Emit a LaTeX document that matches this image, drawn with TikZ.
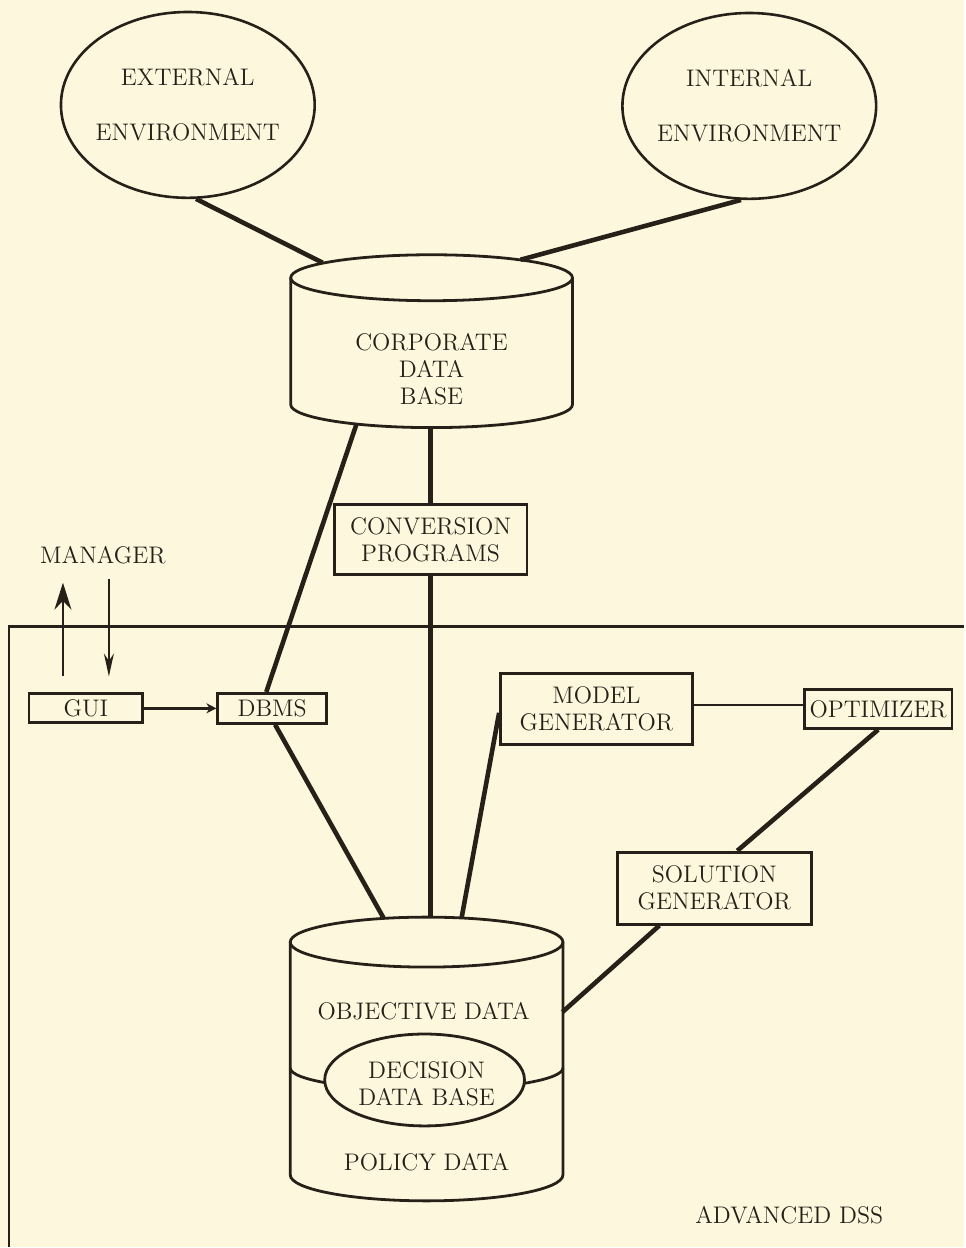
\documentclass[tikz,border=0pt]{standalone}
\usepackage{amsmath}
\usepackage{tikz}
\usepackage{xcolor}
\usetikzlibrary{shapes.geometric,arrows.meta}
\definecolor{paper}{RGB}{253,248,221}
\definecolor{ink}{RGB}{38,32,24}
\tikzset{
    diagram-text/.style = {text=ink, align=center, font=\fontsize{12}{13.5}\selectfont, inner sep=0pt},
    env-ellipse/.style = {draw=ink, ellipse, line width=1.3pt, minimum width=127pt, minimum height=93pt, inner sep=0pt},
    plain-box/.style = {diagram-text, draw=ink, rectangle, line width=1.4pt},
    db-outline/.style = {draw=ink, line width=1.4pt},
    thick-link/.style = {draw=ink, line width=2.3pt},
    thin-link/.style = {draw=ink, line width=1.2pt},
    manager-arrow/.style = {draw=ink, line width=1pt},
}

\begin{document}
\begin{tikzpicture}[x=0.5pt, y=-0.5pt]
\fill[paper] (0,0) rectangle (965,1248);
\draw[ink, line width=1.2pt] (9,1248) -- (9,627) -- (965,627);

% environments
\node[env-ellipse] (ext) at (188,105) {};
\node[diagram-text] at (ext) {EXTERNAL\\[14pt]ENVIRONMENT};
\node[env-ellipse] (int) at (750,106) {};
\node[diagram-text] at (int) {INTERNAL\\[14pt]ENVIRONMENT};

% corporate data base
\draw[db-outline] (291,278) -- (291,405) arc[start angle=180, end angle=360, x radius=70.5pt, y radius=11.5pt] -- (573,278);
\draw[db-outline] (432,278) ellipse [x radius=70.5pt, y radius=11.5pt];
\node[diagram-text] (corp) at (432,370) {CORPORATE\\DATA\\BASE};
\coordinate (corp-top-left) at (323,263);
\coordinate (corp-top-right) at (521,260);
\coordinate (corp-bottom-left) at (357,424);
\coordinate (corp-bottom-mid) at (431,428);

% decision data base
\draw[db-outline] (290.5,943) -- (290.5,1176) arc[start angle=180, end angle=360, x radius=68.25pt, y radius=13pt] -- (563.5,943);
\draw[db-outline] (427,943) ellipse [x radius=68.25pt, y radius=12.5pt];
\draw[db-outline] (290.5,1069) arc[start angle=180, end angle=360, x radius=68.25pt, y radius=11pt];
\node[db-outline, ellipse, fill=paper, minimum width=100pt, minimum height=46pt, inner sep=0pt] (ddb) at (425,1081) {};
\node[diagram-text] at (427,1085) {DECISION\\DATA BASE};
\node[diagram-text] (objective) at (424,1012) {OBJECTIVE DATA};
\node[diagram-text] (policy) at (427,1163) {POLICY DATA};
\coordinate (dss-top-left) at (384,919);
\coordinate (dss-top-mid) at (431,918);
\coordinate (dss-top-right) at (462,919);
\coordinate (dss-right) at (563,1013);

% boxes
\node[plain-box, minimum width=96.5pt, minimum height=35pt] (conv) at (431,540) {CONVERSION\\PROGRAMS};
\node[plain-box, minimum width=57pt, minimum height=14.5pt] (gui) at (86,709) {GUI};
\node[plain-box, minimum width=54.5pt, minimum height=15pt] (dbms) at (272.5,709) {DBMS};
\node[plain-box, minimum width=96pt, minimum height=35.5pt] (model) at (597,709.5) {MODEL\\GENERATOR};
\node[plain-box, minimum width=74pt, minimum height=19.5pt] (opt) at (879,709.5) {OPTIMIZER};
\node[plain-box, minimum width=97pt, minimum height=36pt] (sol) at (715,889) {SOLUTION\\GENERATOR};

\node[diagram-text] (mgr) at (103,556) {MANAGER};
\node[diagram-text] (adss) at (790,1216) {ADVANCED DSS};

% links
\draw[thick-link] (ext.-85) -- (corp-top-left);
\draw[thick-link] (int.-95) -- (corp-top-right);
\draw[thick-link] (corp-bottom-left) -- (dbms.110);
\draw[thick-link] (dbms.-80) -- (dss-top-left);
\draw[thick-link] (corp-bottom-mid) -- (conv);
\draw[thick-link] (conv) -- (dss-top-mid);
\draw[thick-link] ([yshift=-2pt]model.west) -- (dss-top-right);
\draw[thin-link] ([yshift=2pt]model.east) -- ([yshift=2pt]opt.west);
\draw[thick-link] (opt.south) -- ([xshift=11.5pt]sol.north);
\draw[thick-link] ([xshift=-27.5pt]sol.south) -- (dss-right);
\draw[thick-link, line width=1.5pt, -{Stealth[length=5pt, width=5pt]}] (gui) -- (dbms);

% manager arrows
\coordinate (up-foot) at (63,677);
\coordinate (down-head) at (109,580);
\draw[manager-arrow, -{Stealth[length=13.5pt, width=8.5pt]}, shorten >=9pt] (up-foot) -- (up-foot |- mgr.south);
\draw[manager-arrow, -{Stealth[length=11.5pt, width=5pt]}, shorten >=8pt] (down-head) -- (down-head |- gui.north);
\end{tikzpicture}
\end{document}
